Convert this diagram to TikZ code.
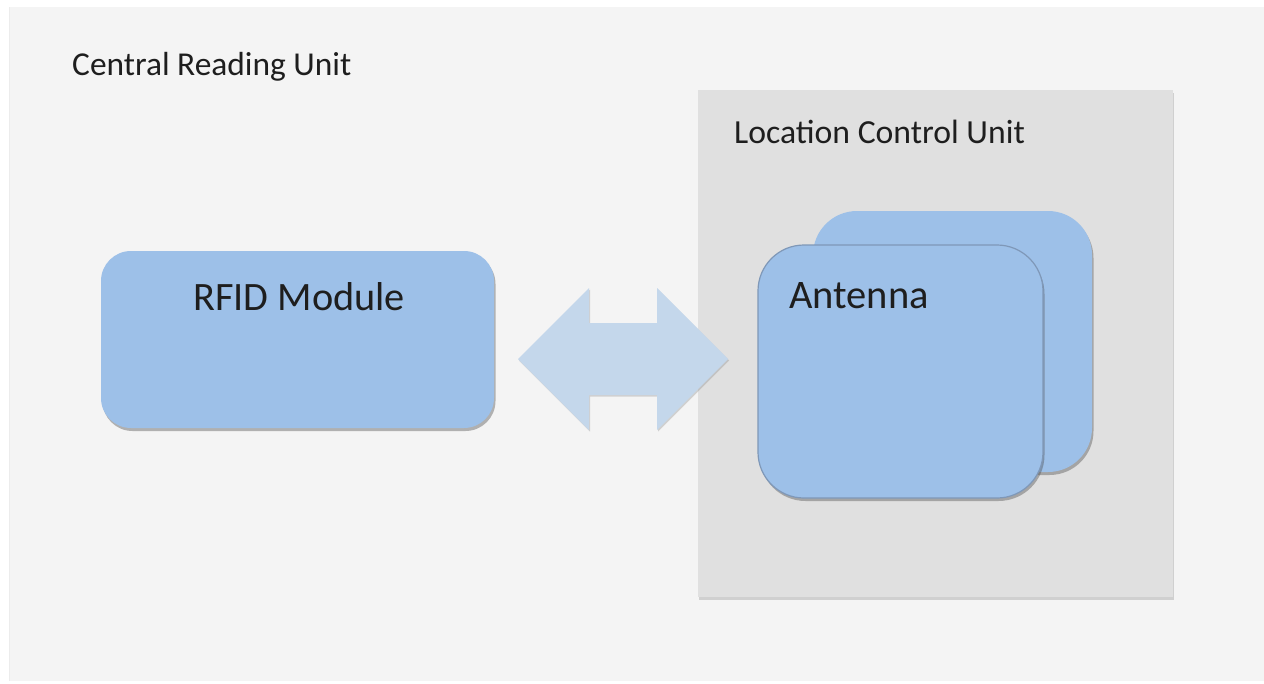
\documentclass[tikz,border=0pt]{standalone}
\usepackage{fontspec}
\setmainfont{Carlito}
\usetikzlibrary{shadows}
\definecolor{outerbg}{HTML}{F4F4F4}
\definecolor{lcubg}{HTML}{E0E0E0}
\definecolor{boxblue}{HTML}{9DC0E8}
\definecolor{arrowblue}{HTML}{C4D7EB}
\definecolor{edgeblue}{HTML}{7F98B8}
\definecolor{txt}{HTML}{1E1E1E}
\tikzset{
  softshadow/.style={drop shadow={shadow xshift=1.5pt, shadow yshift=-3pt, opacity=0.4, fill=black!70}},
  panel/.style={rectangle, inner sep=0pt, draw=none},
  bluebox/.style={panel, fill=boxblue, softshadow},
  label/.style={inner sep=0pt, anchor=base west, text=txt},
}
\begin{document}
\begin{tikzpicture}[x=1pt,y=-1pt]
\useasboundingbox[fill=white] (0,0) rectangle (1264,683);
% outer panel
\node[panel, fill=outerbg, minimum width=1254pt, minimum height=674pt,
  drop shadow={shadow xshift=-1pt, shadow yshift=0pt, opacity=0.15}] (cru) at (637,344) {};
\node[label, font=\fontsize{33.4}{40}\selectfont] (crulabel) at (72,75) {Central Reading Unit};
% location control unit
\node[panel, fill=lcubg, minimum width=475pt, minimum height=507pt,
  drop shadow={shadow xshift=1pt, shadow yshift=-3pt, opacity=0.3}] (lcu) at (935.5,343.5) {};
\node[label, font=\fontsize{33.7}{40}\selectfont] (lculabel) at (734,143) {Location Control Unit};
% antennas
\node[bluebox, rounded corners=44pt, minimum width=279pt, minimum height=261pt] (antback) at (952.5,341.5) {};
\node[bluebox, draw=edgeblue, line width=1.2pt, rounded corners=46pt, minimum width=285pt, minimum height=253pt] (antfront) at (900.5,371.5) {};
\node[label, font=\fontsize{40.5}{48}\selectfont] (antlabel) at (789,308) {Antenna};
% RFID module
\node[bluebox, rounded corners=30pt, minimum width=393pt, minimum height=177pt] (rfid) at (297.5,339.5) {};
\node[label, font=\fontsize{40.3}{48}\selectfont] (rfidlabel) at (193,310) {RFID Module};
% double arrow
\coordinate (ltip) at (518,359);
\coordinate (rtip) at (728,359);
\fill[arrowblue, drop shadow={shadow xshift=1pt, shadow yshift=-1.5pt, opacity=0.3}]
  (ltip) -- (589,288) -- (589,323) -- (657,323) -- (657,288) -- (rtip)
  -- (657,430) -- (657,395) -- (589,395) -- (589,430) -- cycle;
\end{tikzpicture}
\end{document}
